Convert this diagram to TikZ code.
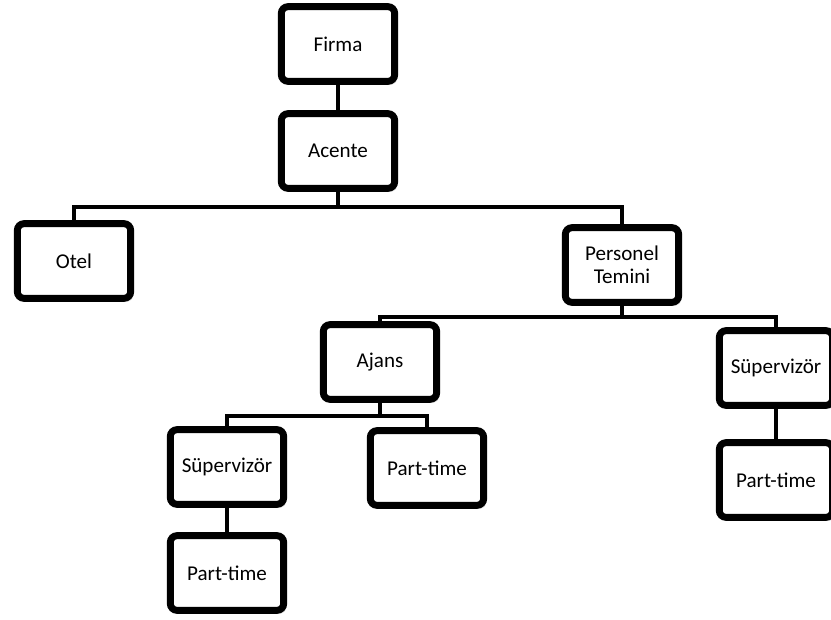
\documentclass[tikz,border=0pt]{standalone}
\usepackage{fontspec}
\setmainfont{Carlito}
\usetikzlibrary{shadows}
\begin{document}
\begin{tikzpicture}[x=0.75pt,y=-0.75pt,
  box/.style={draw=black, fill=white, line width=5.2pt, rounded corners=5pt,
    minimum width=85pt, minimum height=56pt, inner sep=2pt, align=center,
    font=\fontsize{15.8}{17.5}\selectfont,
    drop shadow={opacity=0.25, shadow xshift=2pt, shadow yshift=-2.5pt}},
  conn/.style={draw=black, line width=3pt}]
\useasboundingbox (0,0) rectangle (831,619);
\node[box] (firma) at (338,44) {Firma};
\node[box] (acente) at (338,151) {Acente};
\node[box] (otel) at (74,261) {Otel};
\node[box] (pers) at (622,265) {Personel\\Temini};
\node[box] (ajans) at (380,362) {Ajans};
\node[box] (sup1) at (227,467) {Süpervizör};
\node[box] (pt1) at (427,468) {Part-time};
\node[box] (pt2) at (227,573) {Part-time};
\node[box] (sup2) at (776,368) {Süpervizör};
\node[box] (pt3) at (776,480) {Part-time};
\coordinate (b1) at (338,207);
\coordinate (b2) at (622,317);
\coordinate (b3) at (380,416);
\draw[conn] (firma.south) -- (acente.north);
\draw[conn] (acente.south) -- (b1) -| (otel.north);
\draw[conn] (b1) -| (pers.north);
\draw[conn] (pers.south) -- (b2) -| (ajans.north);
\draw[conn] (b2) -| (sup2.north);
\draw[conn] (ajans.south) -- (b3) -| (sup1.north);
\draw[conn] (b3) -| (pt1.north);
\draw[conn] (sup1.south) -- (pt2.north);
\draw[conn] (sup2.south) -- (pt3.north);
\end{tikzpicture}
\end{document}
